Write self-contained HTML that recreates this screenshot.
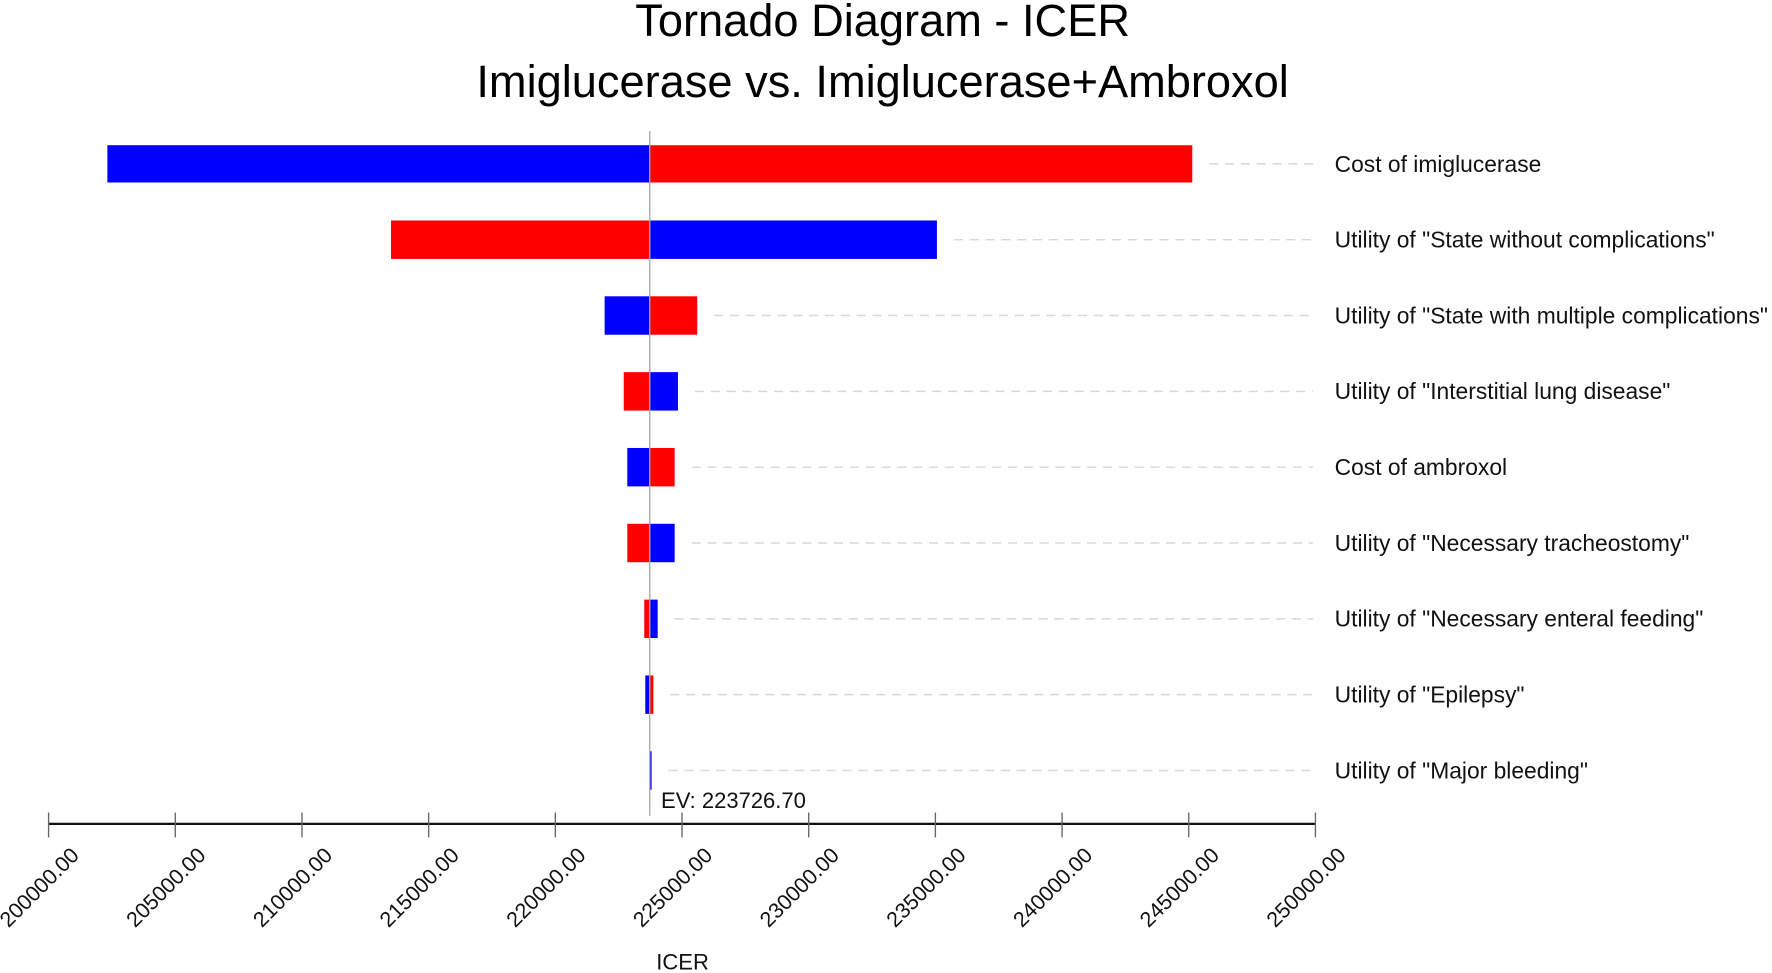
<!DOCTYPE html>
<html><head><meta charset="utf-8"><style>
html,body{margin:0;padding:0;background:#fff;}
svg{display:block;font-family:"Liberation Sans",Arial,sans-serif;}
</style></head><body>
<svg id="chart" width="1772" height="973" viewBox="0 0 1568 861" preserveAspectRatio="none" xmlns="http://www.w3.org/2000/svg">
<text x="781" y="32" font-size="40" text-anchor="middle" fill="#000">Tornado Diagram - ICER</text>
<text x="781" y="86" font-size="40" text-anchor="middle" fill="#000">Imiglucerase vs. Imiglucerase+Ambroxol</text>
<g id="plot"></g>
</svg>
<script>
const categories = ['Cost of imiglucerase','Utility of "State without complications"','Utility of "State with multiple complications"','Utility of "Interstitial lung disease"','Cost of ambroxol','Utility of "Necessary tracheostomy"','Utility of "Necessary enteral feeding"','Utility of "Epilepsy"','Utility of "Major bleeding"'];
const lowValues = [202320, 213515, 221945, 222700, 222840, 222840, 223510, 223550, 223726.7];
const highValues = [245140, 235060, 225600, 224840, 224710, 224710, 224040, 223870, 223800];
const leftColors = ['blue','red','blue','red','blue','red','red','blue','blue'];
const rightColors = ['red','blue','red','blue','red','blue','blue','red','blue'];
const ev = 223726.70;
const tickValues = [200000,205000,210000,215000,220000,225000,230000,235000,240000,245000,250000];

const NS='http://www.w3.org/2000/svg';
const g=document.getElementById('plot');
const xMin=200000,xMax=250000,x0=43,x1=1164;
function xScale(v){return x0+(v-xMin)/(xMax-xMin)*(x1-x0);}
function yScale(i){return 145+i*67.1;}
function mk(tag,attrs){const e=document.createElementNS(NS,tag);for(const k in attrs)e.setAttribute(k,attrs[k]);g.appendChild(e);return e;}
const cx=xScale(ev);
categories.forEach((c,i)=>{
  const y=yScale(i),h=i===0?33:34;
  const lo=xScale(lowValues[i]),hi=xScale(highValues[i]);
  const dl=mk('line',{x1:Math.max(hi,cx)+15,x2:1162,y1:y,y2:y,stroke:'#d8d8d8','stroke-width':1.3,'stroke-dasharray':'8,6'});
  
  
  const l=mk('rect',{x:lo,y:y-h/2,width:Math.max(cx-lo,0),height:h,fill:leftColors[i]});
  
  
  const r=mk('rect',{x:cx,y:y-h/2,width:Math.max(hi-cx,1.2),height:h,fill:rightColors[i]});
  
  
  const t=mk('text',{x:1181,y:y+7,'font-size':20.2,fill:'#111'});
  t.textContent=c;
  
  
});
const evl=mk('line',{x1:cx,x2:cx,y1:116,y2:722,stroke:'#aaa','stroke-width':1.2});


const evt=mk('text',{x:cx+10,y:715,'font-size':19.5,fill:'#111'});
evt.textContent='EV: '+ev.toFixed(2);


const ax=mk('line',{x1:x0,x2:x1,y1:729,y2:729,stroke:'#111','stroke-width':2});


tickValues.forEach(v=>{
  const x=xScale(v);
  const tk=mk('line',{x1:x,x2:x,y1:719,y2:741,stroke:'#666','stroke-width':1.2});
  
  
  const tl=mk('text',{x:x+28,y:758,'font-size':19,fill:'#111','text-anchor':'end',transform:`rotate(-45 ${x+28} 758)`});
  tl.textContent=v.toFixed(2);
  
  
});
const at=mk('text',{x:604,y:858,'font-size':19.5,'text-anchor':'middle',fill:'#111'});
at.textContent='ICER';


</script>
</body></html>
